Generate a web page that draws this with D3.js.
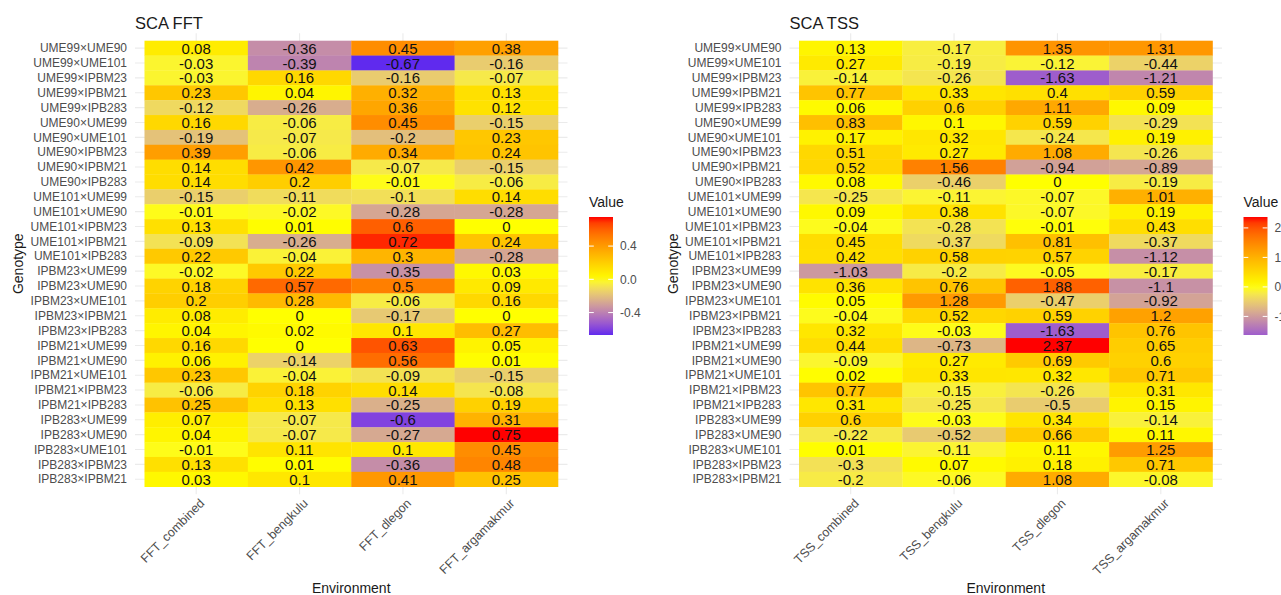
<!DOCTYPE html>
<html>
<head>
<meta charset="utf-8">
<script src="https://cdn.jsdelivr.net/npm/d3@7"></script>
<style>
  body { margin: 0; background: #fff; }
  text { font-family: "Liberation Sans", Arial, sans-serif; }
</style>
</head>
<body>
<div id="chart"></div>
<script>
var genotypes = [
  "UME99×UME90", "UME99×UME101", "UME99×IPBM23", "UME99×IPBM21", "UME99×IPB283",
  "UME90×UME99", "UME90×UME101", "UME90×IPBM23", "UME90×IPBM21", "UME90×IPB283",
  "UME101×UME99", "UME101×UME90", "UME101×IPBM23", "UME101×IPBM21", "UME101×IPB283",
  "IPBM23×UME99", "IPBM23×UME90", "IPBM23×UME101", "IPBM23×IPBM21", "IPBM23×IPB283",
  "IPBM21×UME99", "IPBM21×UME90", "IPBM21×UME101", "IPBM21×IPBM23", "IPBM21×IPB283",
  "IPB283×UME99", "IPB283×UME90", "IPB283×UME101", "IPB283×IPBM23", "IPB283×IPBM21"
];

var fftEnv = ["FFT_combined", "FFT_bengkulu", "FFT_dlegon", "FFT_argamakmur"];
var tssEnv = ["TSS_combined", "TSS_bengkulu", "TSS_dlegon", "TSS_argamakmur"];

// one row per genotype, columns in env order
var fftValues = [
  [0.08, -0.36, 0.45, 0.38], [-0.03, -0.39, -0.67, -0.16], [-0.03, 0.16, -0.16, -0.07],
  [0.23, 0.04, 0.32, 0.13], [-0.12, -0.26, 0.36, 0.12], [0.16, -0.06, 0.45, -0.15],
  [-0.19, -0.07, -0.2, 0.23], [0.39, -0.06, 0.34, 0.24], [0.14, 0.42, -0.07, -0.15],
  [0.14, 0.2, -0.01, -0.06], [-0.15, -0.11, -0.1, 0.14], [-0.01, -0.02, -0.28, -0.28],
  [0.13, 0.01, 0.6, 0], [-0.09, -0.26, 0.72, 0.24], [0.22, -0.04, 0.3, -0.28],
  [-0.02, 0.22, -0.35, 0.03], [0.18, 0.57, 0.5, 0.09], [0.2, 0.28, -0.06, 0.16],
  [0.08, 0, -0.17, 0], [0.04, 0.02, 0.1, 0.27], [0.16, 0, 0.63, 0.05],
  [0.06, -0.14, 0.56, 0.01], [0.23, -0.04, -0.09, -0.15], [-0.06, 0.18, 0.14, -0.08],
  [0.25, 0.13, -0.25, 0.19], [0.07, -0.07, -0.6, 0.31], [0.04, -0.07, -0.27, 0.75],
  [-0.01, 0.11, 0.1, 0.45], [0.13, 0.01, -0.36, 0.48], [0.03, 0.1, 0.41, 0.25]
];

var tssValues = [
  [0.13, -0.17, 1.35, 1.31], [0.27, -0.19, -0.12, -0.44], [-0.14, -0.26, -1.63, -1.21],
  [0.77, 0.33, 0.4, 0.59], [0.06, 0.6, 1.11, 0.09], [0.83, 0.1, 0.59, -0.29],
  [0.17, 0.32, -0.24, 0.19], [0.51, 0.27, 1.08, -0.26], [0.52, 1.56, -0.94, -0.89],
  [0.08, -0.46, 0, -0.19], [-0.25, -0.11, -0.07, 1.01], [0.09, 0.38, -0.07, 0.19],
  [-0.04, -0.28, -0.01, 0.43], [0.45, -0.37, 0.81, -0.37], [0.42, 0.58, 0.57, -1.12],
  [-1.03, -0.2, -0.05, -0.17], [0.36, 0.76, 1.88, -1.1], [0.05, 1.28, -0.47, -0.92],
  [-0.04, 0.52, 0.59, 1.2], [0.32, -0.03, -1.63, 0.76], [0.44, -0.73, 2.37, 0.65],
  [-0.09, 0.27, 0.69, 0.6], [0.02, 0.33, 0.32, 0.71], [0.77, -0.15, -0.26, 0.31],
  [0.31, -0.25, -0.5, 0.15], [0.6, -0.03, 0.34, -0.14], [-0.22, -0.52, 0.66, 0.11],
  [0.01, -0.11, 0.11, 1.25], [-0.3, 0.07, 0.18, 0.71], [-0.2, -0.06, 1.08, -0.08]
];

var fftLegendTicks = [-0.4, 0, 0.4];
var tssLegendTicks = [-1, 0, 1, 2];

var svgWidth = 1281;
var svgHeight = 595;

var svg = d3.select("#chart")
  .append("svg")
  .attr("width", svgWidth)
  .attr("height", svgHeight);

var panelOffset = 654.5;

// R prints a plain hyphen, d3.format gives a unicode minus
function hyphen(f) {
  return function(v) { return f(v).replace("\u2212", "-"); };
}

function drawPanel(idx, title, envs, values, legendTicks, legendFmt) {
  var ox = idx * panelOffset;
  var g = svg.append("g").attr("transform", `translate(${ox}, 0)`);

  var tileLeft = 144.5, tileRight = 558, tileTop = 40.7, tileBottom = 486.7;

  var x = d3.scaleBand().domain(envs).range([tileLeft, tileRight]);
  var y = d3.scaleBand().domain(genotypes).range([tileTop, tileBottom]);

  var cells = [];
  values.forEach(function(row, i) {
    row.forEach(function(v, j) {
      cells.push({ geno: genotypes[i], env: envs[j], value: v });
    });
  });

  var ext = d3.extent(cells, d => d.value);
  var m = d3.max(cells, d => Math.abs(d.value));
  var color = d3.scaleLinear()
    .domain([-m, 0, m])
    .range(["blue", "yellow", "red"])
    .interpolate(d3.interpolateLab);

  // grid lines (theme_minimal)
  g.selectAll(".hgrid")
    .data(genotypes)
    .enter()
    .append("line")
    .attr("x1", tileLeft - 9.5)
    .attr("x2", tileRight + 9.5)
    .attr("y1", d => y(d) + y.bandwidth() / 2)
    .attr("y2", d => y(d) + y.bandwidth() / 2)
    .attr("stroke", "#ebebeb")
    .attr("stroke-width", 1.1);

  g.selectAll(".vgrid")
    .data(envs)
    .enter()
    .append("line")
    .attr("x1", d => x(d) + x.bandwidth() / 2)
    .attr("x2", d => x(d) + x.bandwidth() / 2)
    .attr("y1", tileTop - 7.5)
    .attr("y2", tileBottom + 7.5)
    .attr("stroke", "#ebebeb")
    .attr("stroke-width", 1.1);

  g.selectAll("rect.tile")
    .data(cells)
    .enter()
    .append("rect")
    .attr("class", "tile")
    .attr("x", d => x(d.env))
    .attr("y", d => y(d.geno))
    .attr("width", x.bandwidth() + 0.3)
    .attr("height", y.bandwidth() + 0.3)
    .attr("fill", d => color(d.value));

  g.selectAll("text.cell")
    .data(cells)
    .enter()
    .append("text")
    .attr("class", "cell")
    .attr("x", d => x(d.env) + x.bandwidth() / 2)
    .attr("y", d => y(d.geno) + y.bandwidth() / 2)
    .attr("dy", "0.37em")
    .attr("text-anchor", "middle")
    .style("font-size", "15px")
    .attr("fill", "#111")
    .text(d => String(d.value));

  // y axis labels
  g.selectAll("text.ylab")
    .data(genotypes)
    .enter()
    .append("text")
    .attr("x", 127)
    .attr("y", d => y(d) + y.bandwidth() / 2)
    .attr("dy", "0.35em")
    .attr("text-anchor", "end")
    .style("font-size", "12px")
    .attr("fill", "#4d4d4d")
    .text(d => d);

  // x axis labels, rotated 45
  g.selectAll("text.xlab")
    .data(envs)
    .enter()
    .append("text")
    .attr("text-anchor", "end")
    .attr("transform", d => `translate(${x(d) + x.bandwidth() / 2 + 9}, 504) rotate(-45)`)
    .style("font-size", "12.5px")
    .attr("fill", "#4d4d4d")
    .text(d => d);

  // titles
  g.append("text")
    .attr("x", 135)
    .attr("y", 29)
    .style("font-size", "16.5px")
    .attr("fill", "#1a1a1a")
    .text(title);

  g.append("text")
    .attr("x", (tileLeft + tileRight) / 2)
    .attr("y", 593)
    .attr("text-anchor", "middle")
    .style("font-size", "14px")
    .attr("fill", "#1a1a1a")
    .text("Environment");

  g.append("text")
    .attr("transform", `translate(23, ${(tileTop + tileBottom) / 2}) rotate(-90)`)
    .attr("text-anchor", "middle")
    .style("font-size", "14px")
    .attr("fill", "#1a1a1a")
    .text("Genotype");

  // legend colour bar
  var barX = 589, barW = 24, barTop = 217, barBottom = 335;
  var ly = d3.scaleLinear().domain(ext).range([barBottom, barTop]);

  var gradId = "grad" + idx;
  var grad = svg.append("defs").append("linearGradient")
    .attr("id", gradId)
    .attr("x1", "0").attr("y1", "1").attr("x2", "0").attr("y2", "0");
  d3.range(0, 1.0001, 0.05).forEach(function(t) {
    var v = ext[0] + t * (ext[1] - ext[0]);
    grad.append("stop")
      .attr("offset", t)
      .attr("stop-color", color(v));
  });

  g.append("text")
    .attr("x", barX)
    .attr("y", 207)
    .style("font-size", "14px")
    .attr("fill", "#1a1a1a")
    .text("Value");

  g.append("rect")
    .attr("x", barX)
    .attr("y", barTop)
    .attr("width", barW)
    .attr("height", barBottom - barTop)
    .attr("fill", `url(#${gradId})`);

  legendTicks.forEach(function(t) {
    g.append("line")
      .attr("x1", barX).attr("x2", barX + 4.8)
      .attr("y1", ly(t)).attr("y2", ly(t))
      .attr("stroke", "#fff").attr("stroke-width", 1);
    g.append("line")
      .attr("x1", barX + barW - 4.8).attr("x2", barX + barW)
      .attr("y1", ly(t)).attr("y2", ly(t))
      .attr("stroke", "#fff").attr("stroke-width", 1);
    g.append("text")
      .attr("x", barX + barW + 7)
      .attr("y", ly(t))
      .attr("dy", "0.35em")
      .style("font-size", "12px")
      .attr("fill", "#4d4d4d")
      .text(legendFmt(t));
  });
}

drawPanel(0, "SCA FFT", fftEnv, fftValues, fftLegendTicks, hyphen(d3.format(".1f")));
drawPanel(1, "SCA TSS", tssEnv, tssValues, tssLegendTicks, hyphen(d3.format("d")));
</script>
</body>
</html>
